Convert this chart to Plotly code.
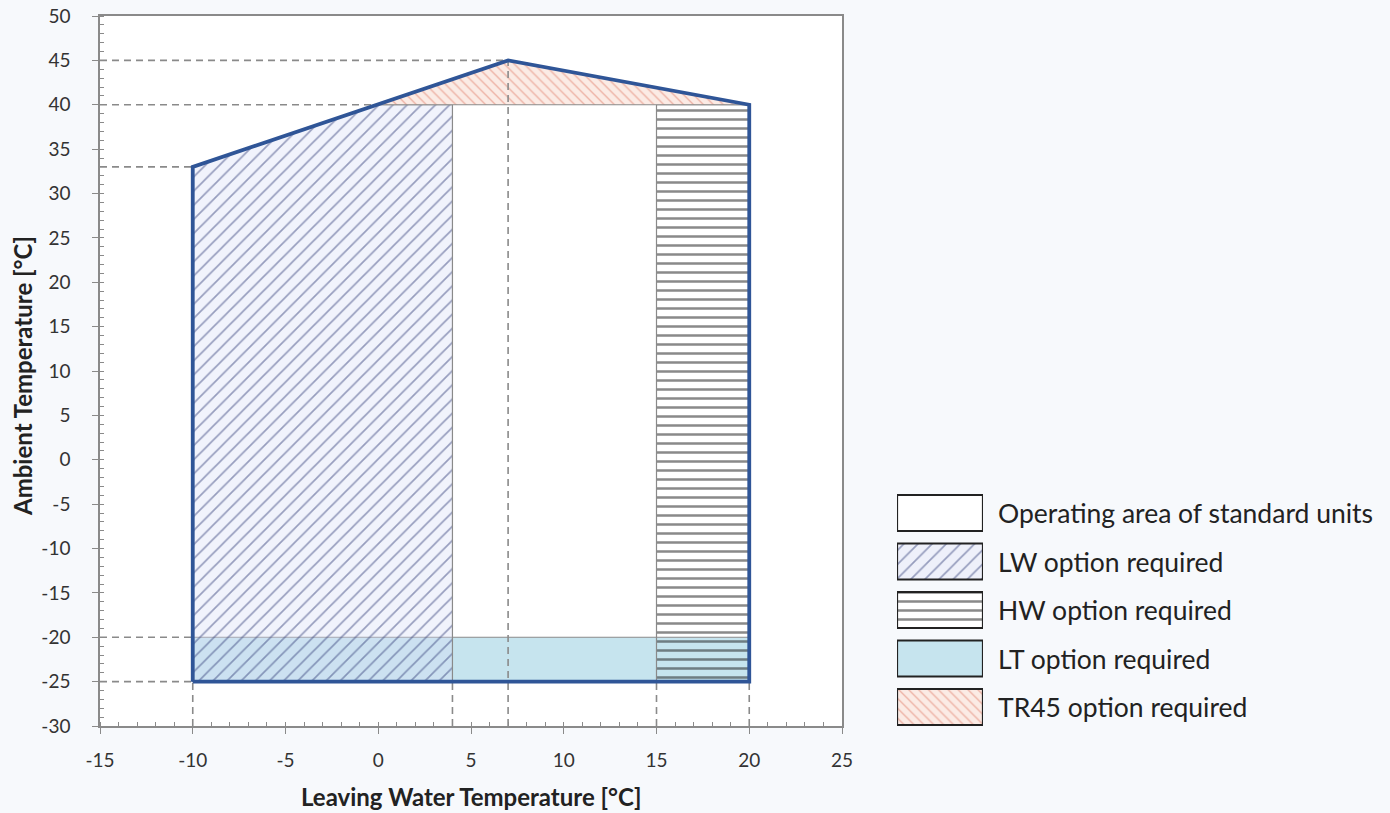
import plotly.graph_objects as go

# ---------------- data ----------------
env_x = [-10, -10, 7, 20, 20, -10]
env_y = [-25, 33, 45, 40, -25, -25]

lw_x = [-10, -10, 0, 4, 4, -10]
lw_y = [-25, 33, 40, 40, -25, -25]

tr45_x = [0, 7, 20, 0]
tr45_y = [40, 45, 40, 40]

hw_x = [15, 15, 20, 20, 15]
hw_y = [-25, 40, 40, -25, -25]

lt_x = [-10, -10, 20, 20, -10]
lt_y = [-25, -20, -20, -25, -25]

# dashed guide lines
h_guides_y = [45, 40, 33, -20, -25]
h_guides_xend = [7, 0, -10, -10, -10]
v_guides_x = [-10, 4, 7, 15, 20]
v_guides_yend = [-25, -25, 45, -25, -25]

x_tickvals = [-15, -10, -5, 0, 5, 10, 15, 20, 25]
x_ticktext = ["-15", "-10", "-5", "0", "5", "10", "15", "20", "25"]
y_tickvals = [-30, -25, -20, -15, -10, -5, 0, 5, 10, 15, 20, 25, 30, 35, 40, 45, 50]
y_ticktext = ["-30", "-25", "-20", "-15", "-10", "-5", "0", "5", "10", "15", "20",
              "25", "30", "35", "40", "45", "50"]

legend_labels = ["Operating area of standard units", "LW option required",
                 "HW option required", "LT option required", "TR45 option required"]

# ---------------- styles ----------------
W, H = 1390, 813
PX0, PX1 = 100, 842      # plot area pixels (x)
PY0, PY1 = 16, 726       # plot area pixels (y, top / bottom)
FONT = "Lato"
GRAY = "#8a8a8a"
ENV_COLOR = "#2f5597"
LW_PAT = dict(shape="/", size=10, solidity=0.17, fgcolor="#3d4880")
HW_PAT = dict(shape="-", size=9, solidity=0.28, fgcolor="#151515")
TR_PAT = dict(shape="\\", size=7, solidity=0.2, fgcolor="#e07a66")

fig = go.Figure()

# LT (light blue)
fig.add_trace(go.Scatter(x=lt_x, y=lt_y, mode="lines", fill="toself",
                         fillcolor="#c6e4ee", line=dict(color=GRAY, width=1.2),
                         hoverinfo="skip", showlegend=False))
# LW (diagonal hatch)
fig.add_trace(go.Scatter(x=lw_x, y=lw_y, mode="lines", fill="toself",
                         fillpattern=dict(**LW_PAT, bgcolor="rgba(215,220,245,0.35)"),
                         line=dict(color=GRAY, width=1.2),
                         hoverinfo="skip", showlegend=False))
# HW (horizontal lines)
fig.add_trace(go.Scatter(x=hw_x, y=hw_y, mode="lines", fill="toself",
                         fillpattern=dict(**HW_PAT, bgcolor="rgba(255,255,255,0)"),
                         line=dict(color=GRAY, width=1.2),
                         hoverinfo="skip", showlegend=False))
# TR45 (red back-diagonal)
fig.add_trace(go.Scatter(x=tr45_x, y=tr45_y, mode="lines", fill="toself",
                         fillpattern=dict(**TR_PAT, bgcolor="#fbebe5"),
                         line=dict(color=GRAY, width=1.2),
                         hoverinfo="skip", showlegend=False))

# dashed guides
for yv, xe in zip(h_guides_y, h_guides_xend):
    fig.add_trace(go.Scatter(x=[-15, xe], y=[yv, yv], mode="lines",
                             line=dict(color=GRAY, width=1.6, dash="7px,5px"),
                             hoverinfo="skip", showlegend=False))
for xv, ye in zip(v_guides_x, v_guides_yend):
    fig.add_trace(go.Scatter(x=[xv, xv], y=[-30, ye], mode="lines",
                             line=dict(color=GRAY, width=1.6, dash="7px,5px"),
                             hoverinfo="skip", showlegend=False))

# envelope
fig.add_trace(go.Scatter(x=env_x, y=env_y, mode="lines",
                         line=dict(color=ENV_COLOR, width=3.8),
                         hoverinfo="skip", showlegend=False))

# ---------------- custom legend on secondary axes ----------------
LEG_TOP, ROW, BOX_H = 495, 48.5, 36
leg_styles = [
    dict(fillcolor="white"),
    dict(fillpattern=dict(**LW_PAT, bgcolor="#eef0fa")),
    dict(fillpattern=dict(**HW_PAT, bgcolor="white")),
    dict(fillcolor="#c6e4ee"),
    dict(fillpattern=dict(**TR_PAT, bgcolor="#fbebe5")),
]
for i, (lab, st) in enumerate(zip(legend_labels, leg_styles)):
    y0 = LEG_TOP + i * ROW
    y1 = y0 + BOX_H
    fig.add_trace(go.Scatter(x=[0, 1, 1, 0, 0], y=[y0, y0, y1, y1, y0], mode="lines",
                             fill="toself", line=dict(color="#222222", width=2.2),
                             xaxis="x2", yaxis="y2", hoverinfo="skip", showlegend=False, **st))
    fig.add_annotation(text=lab, xref="paper", yref="paper",
                       x=996 / W, y=1 - (y0 + BOX_H / 2) / H, xanchor="left", yanchor="middle",
                       showarrow=False, font=dict(family=FONT, size=26.5, color="#222222"))

# axis titles
fig.add_annotation(text="<b>Leaving Water Temperature [°C]</b>", xref="paper", yref="paper",
                   x=(PX0 + PX1) / 2 / W, y=1 - 796 / H, xanchor="center", yanchor="middle",
                   showarrow=False, font=dict(family=FONT, size=24, color="#222222"))
fig.add_annotation(text="<b>Ambient Temperature [°C]</b>", xref="paper", yref="paper",
                   x=23 / W, y=1 - 376 / H, xanchor="center", yanchor="middle", showarrow=False,
                   textangle=-90, font=dict(family=FONT, size=24, color="#222222"))

# white background for the main plot area only
fig.add_shape(type="rect", xref="x domain", yref="y domain", x0=0, x1=1, y0=0, y1=1,
              fillcolor="white", line=dict(width=0), layer="below")

axis_common = dict(showgrid=False, zeroline=False, showline=True, linecolor=GRAY, linewidth=1.5,
                   mirror=True, ticks="outside", ticklen=6, tickwidth=1.2, tickcolor=GRAY,
                   tickfont=dict(family=FONT, size=19, color="#333333"), automargin=False,
                   fixedrange=True, tickmode="array")

fig.update_layout(
    width=W, height=H, autosize=False,
    margin=dict(l=0, r=0, t=0, b=0),
    paper_bgcolor="#f7f9fc", plot_bgcolor="rgba(0,0,0,0)",
    xaxis=dict(domain=[PX0 / W, PX1 / W], range=[-15, 25],
               tickvals=x_tickvals, ticktext=x_ticktext,
               minor=dict(ticks="inside", ticklen=4, dtick=1, tickcolor=GRAY),
               ticklabelstandoff=10, **axis_common),
    yaxis=dict(domain=[1 - PY1 / H, 1 - PY0 / H], range=[-30, 50],
               tickvals=y_tickvals, ticktext=y_ticktext,
               minor=dict(ticks="inside", ticklen=4, dtick=1, tickcolor=GRAY),
               ticklabelstandoff=18, **axis_common),
    xaxis2=dict(domain=[897 / W, 983 / W], range=[0, 1], visible=False, fixedrange=True,
                anchor="y2"),
    yaxis2=dict(domain=[1 - 740 / H, 1 - 480 / H], range=[740, 480], visible=False,
                fixedrange=True, anchor="x2"),
    showlegend=False,
)

fig.write_html("out.html", config={"displayModeBar": False},
               post_script="document.body.style.margin='0px';")
